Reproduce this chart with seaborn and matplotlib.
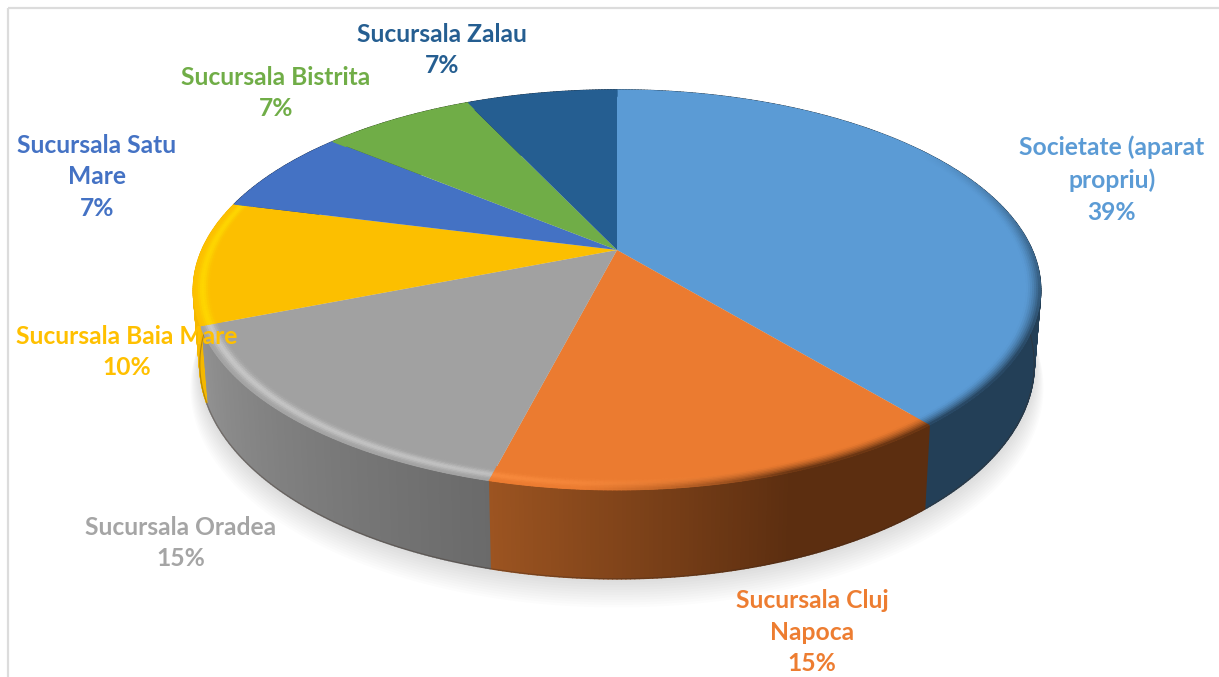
import numpy as np
import matplotlib
matplotlib.use("Agg")
import matplotlib.pyplot as plt
import matplotlib.colors as mcolors
from matplotlib.collections import PolyCollection
from matplotlib.transforms import Transform
import seaborn as sns

# ---- data ----
labels = ["Societate (aparat\npropriu)", "Sucursala Cluj\nNapoca", "Sucursala Oradea",
          "Sucursala Baia Mare", "Sucursala Satu\nMare", "Sucursala Bistrita", "Sucursala Zalau"]
shares = [39, 15, 15, 10, 7, 7, 7]
colors = ["#5B9BD5", "#EB7B30", "#A1A1A1", "#FCBF00", "#4472C4", "#70AD47", "#255E91"]
text_colors = ["#5B9BD5", "#ED7D31", "#A5A5A5", "#FFC000", "#4472C4", "#70AD47", "#255E91"]

# label centres in pixels (x, y of the block)
label_pos = [(1112, 180), (812, 632), (181, 543), (127, 352), (97, 177), (276, 93), (442, 50)]

# ---- perspective of the pie ----
W, H = 1219, 677
CX, CY = 617, 250
A, B, K = 415.0, 192.0, 0.2
DEPTH = 71.0


def project(x, y, depth=0.0):
    w = 1 + K * y
    squeeze = 1 - 0.015 * depth / DEPTH
    return CX + squeeze * A * x / w, CY - B * y / w + depth / w


class PieTop(Transform):
    input_dims = output_dims = 2
    is_separable = False

    def transform_non_affine(self, values):
        px, py = project(values[:, 0], values[:, 1])
        return np.column_stack([px, py])


def unit(theta):
    # theta in degrees clockwise from the top of the pie
    rad = np.deg2rad(theta)
    return np.sin(rad), np.cos(rad)


def rgb(c):
    return np.array(mcolors.to_rgb(c))


def mix(a, b, w):
    return a + (b - a) * w


edges = np.cumsum([0] + shares) * 3.6


def slice_of(theta):
    return min(np.searchsorted(edges, theta, side="right") - 1, len(shares) - 1)


def side_color(theta):
    i = slice_of(theta)
    if i == 1:
        return mix(rgb("#5C2E10"), rgb("#9C5421"), np.clip((theta - 160) / 34.4, 0, 1))
    if i == 2:
        return mix(rgb("#6A6A6A"), rgb("#929292"), (theta - edges[2]) / 54)
    if i == 3:
        return rgb("#F5B800")
    if i == 0:
        return rgb("#233F57")
    return rgb(colors[i]) * 0.5


sns.set_theme(style="white")
plt.rcParams["font.family"] = ["Lato", "DejaVu Sans"]

fig = plt.figure(figsize=(W / 100, H / 100), dpi=100, facecolor="white")
ax = fig.add_axes([0, 0, 1, 1])

wedges, _ = ax.pie(shares, colors=sns.color_palette(colors), startangle=90,
                   counterclock=False, radius=1, wedgeprops=dict(linewidth=0))
ax.set_aspect("auto")
ax.set_xlim(0, W)
ax.set_ylim(H, 0)
ax.axis("off")

to_screen = PieTop() + ax.transData
for w in wedges:
    w.set_transform(to_screen)
    w.set_zorder(5)

# soft shadow under the pie
ring = np.linspace(0, 360, 361)
rx, ry = unit(ring)
for extra in np.arange(3, 24, 2):
    sx, sy = project(rx, ry, DEPTH + extra)
    sx = CX + (sx - CX) * (1 + extra * 0.0012)
    ax.fill(sx, sy, color="black", alpha=0.012, lw=0, zorder=1)

# side wall, one narrow quad per step
steps = np.linspace(0, 360, 721)
quads, quad_colors = [], []
for t0, t1 in zip(steps[:-1], steps[1:]):
    x0, y0 = unit(t0)
    x1, y1 = unit(t1)
    quads.append([project(x0, y0), project(x1, y1), project(x1, y1, DEPTH), project(x0, y0, DEPTH)])
    quad_colors.append(side_color((t0 + t1) / 2))
ax.add_collection(PolyCollection(quads, facecolors=quad_colors, edgecolors=quad_colors,
                                 linewidths=1.2, zorder=3))
# thin dark line at the foot of the wall
fx, fy = project(rx, ry, DEPTH)
front = ry < 0.25
ax.plot(fx[front], fy[front], color="#3a2a20", lw=0.8, alpha=0.35, zorder=4)

# bevel on the rim of the top face
highlight = {1: rgb("#FF9244"), 2: rgb("#CFCFCF"), 3: rgb("#FFDA00")}
radii = np.linspace(0.95, 1.0, 12)
rim_quads, rim_colors = [], []
for t0, t1 in zip(steps[:-1], steps[1:]):
    tm = (t0 + t1) / 2
    i = slice_of(tm)
    h = np.interp(tm, [160, 186, 196, 250, 285, 296], [0, 0.5, 0.7, 0.85, 0.85, 0])
    d = np.interp(tm, [55, 90, 120, 160, 184], [0.0, 0.6, 1, 1, 0])
    base = rgb(colors[i])
    side = side_color(tm)
    for r0, r1 in zip(radii[:-1], radii[1:]):
        s = ((r0 + r1) / 2 - radii[0]) / (radii[-1] - radii[0])
        col = base
        if i in highlight and h > 0:
            col = mix(col, highlight[i], h * np.exp(-((s - 0.6) / 0.22) ** 2))
        if d > 0:
            col = mix(col, side, d * np.clip((s - 0.35) / 0.65, 0, 1) ** 1.5)
        x0, y0 = unit(t0)
        x1, y1 = unit(t1)
        rim_quads.append([project(r0 * x0, r0 * y0), project(r0 * x1, r0 * y1),
                          project(r1 * x1, r1 * y1), project(r1 * x0, r1 * y0)])
        rim_colors.append(col)
ax.add_collection(PolyCollection(rim_quads, facecolors=rim_colors, edgecolors=rim_colors,
                                 linewidths=0.6, zorder=6))

# data labels
for lab, share, col, (lx, ly) in zip(labels, shares, text_colors, label_pos):
    ax.text(lx, ly, f"{lab}\n{share}%", color=col, fontsize=17.7, fontweight="bold",
            ha="center", va="center", linespacing=1.47, zorder=10)

# frame of the pasted chart: top and left only
ax.plot([8, W], [8, 8], color="#DCDCDC", lw=1.6, zorder=0, solid_capstyle="butt")
ax.plot([8, 8], [8, H], color="#DCDCDC", lw=1.6, zorder=0, solid_capstyle="butt")

fig.savefig("out.png", dpi=100, facecolor="white")
